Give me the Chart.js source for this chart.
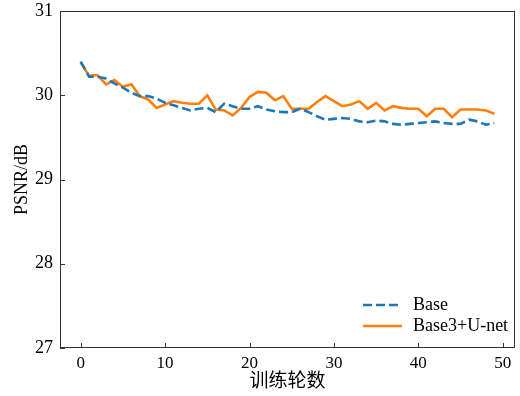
<!DOCTYPE html>
<html><head><meta charset="utf-8">
<script src="https://cdn.jsdelivr.net/npm/chart.js@4.4.1/dist/chart.umd.min.js"></script>
<style>html,body{margin:0;padding:0;background:#fff}#wrap{width:520px;height:396px}</style>
</head><body><div id="wrap"><canvas id="c" width="520" height="396"></canvas></div>
<script>
const epochs = Array.from({length:50},(_,i)=>i);
const baseVals = [30.40,30.22,30.22,30.20,30.14,30.09,30.03,29.99,29.99,29.96,
 29.91,29.88,29.85,29.82,29.84,29.85,29.80,29.90,29.87,29.84,
 29.84,29.87,29.83,29.81,29.80,29.80,29.84,29.80,29.75,29.71,
 29.72,29.73,29.72,29.69,29.68,29.70,29.69,29.66,29.65,29.66,
 29.67,29.68,29.69,29.67,29.66,29.66,29.71,29.69,29.65,29.67];
const unetVals = [30.39,30.23,30.24,30.13,30.18,30.10,30.13,29.99,29.95,29.85,
 29.89,29.93,29.91,29.90,29.90,30.00,29.83,29.82,29.76,29.85,
 29.98,30.04,30.03,29.94,29.99,29.84,29.84,29.84,29.92,29.99,
 29.93,29.87,29.89,29.93,29.84,29.91,29.82,29.87,29.85,29.84,
 29.84,29.75,29.84,29.84,29.74,29.83,29.83,29.83,29.82,29.78];
const xTicks = [0,10,20,30,40,50];
const yTicks = [27,28,29,30,31];
const seriesNames = ['Base','Base3+U-net'];
const xTitle = '训练轮数';
const yTitle = 'PSNR/dB';

const AX = '#333333';
const serif = "'Liberation Serif','Times New Roman',serif";

const frame = {
  id:'frame',
  afterDraw(chart){
    const {ctx, chartArea:a, scales:{x,y}} = chart;
    ctx.save();
    ctx.strokeStyle = AX; ctx.lineWidth = 1;
    ctx.strokeRect(a.left+0.5, a.top+0.5, a.right-a.left-1, a.bottom-a.top-1);
    ctx.beginPath();
    xTicks.forEach(v=>{const px=Math.round(x.getPixelForValue(v))+0.5; ctx.moveTo(px,a.bottom); ctx.lineTo(px,a.bottom-5);});
    yTicks.forEach(v=>{const py=Math.round(y.getPixelForValue(v))+0.5; ctx.moveTo(a.left,py); ctx.lineTo(a.left+5,py);});
    ctx.stroke();
    // legend
    const ds = chart.data.datasets;
    const lx = 363, ly = [305, 326];
    ds.forEach((d,i)=>{
      ctx.beginPath();
      ctx.strokeStyle = d.borderColor; ctx.lineWidth = d.borderWidth;
      ctx.setLineDash(d.borderDash||[]);
      ctx.moveTo(lx, ly[i]); ctx.lineTo(lx+39, ly[i]); ctx.stroke();
      ctx.setLineDash([]);
      ctx.fillStyle = '#000'; ctx.font = '18px '+serif;
      ctx.textBaseline = 'middle'; ctx.textAlign='left';
      ctx.fillText(d.label, lx+50, ly[i]);
    });
    // titles
    ctx.fillStyle = '#000';
    ctx.font = "19px 'Noto Sans CJK SC'";
    ctx.textAlign='center'; ctx.textBaseline='middle';
    ctx.fillText(xTitle, (a.left+a.right)/2, 380);
    ctx.save();
    ctx.translate(22, (a.top+a.bottom)/2);
    ctx.rotate(-Math.PI/2);
    ctx.font = '18px '+serif;
    ctx.fillText(yTitle, 0, 0);
    ctx.restore();
    ctx.restore();
  }
};

new Chart(document.getElementById('c'), {
  type:'line',
  data:{datasets:[
    {label:seriesNames[0], data:epochs.map((e,i)=>({x:e,y:baseVals[i]})), borderColor:'#1f77b4', borderWidth:2.6, borderDash:[9,4], pointRadius:0, fill:false, tension:0},
    {label:seriesNames[1], data:epochs.map((e,i)=>({x:e,y:unetVals[i]})), borderColor:'#ff7f0e', borderWidth:2.6, pointRadius:0, fill:false, tension:0}
  ]},
  options:{
    responsive:false, animation:false, devicePixelRatio:1,
    layout:{padding:{top:11,right:5,left:0,bottom:0}},
    plugins:{legend:{display:false}, tooltip:{enabled:false}},
    scales:{
      x:{type:'linear', min:-2.45, max:51.45,
        afterBuildTicks(s){s.ticks = xTicks.map(v=>({value:v}));},
        afterFit(s){s.height = 48; s.paddingLeft = 0; s.paddingRight = 0;},
        grid:{display:false, drawTicks:false},
        border:{display:false},
        ticks:{color:'#000', font:{family:serif, size:17}, padding:5, maxRotation:0}
      },
      y:{min:27, max:31,
        afterBuildTicks(s){s.ticks = yTicks.map(v=>({value:v}));},
        afterFit(s){s.width = 60; s.paddingTop = 0; s.paddingBottom = 0;},
        grid:{display:false, drawTicks:false},
        border:{display:false},
        ticks:{color:'#000', font:{family:serif, size:18}, padding:7}
      }
    }
  },
  plugins:[frame]
});
</script></body></html>
